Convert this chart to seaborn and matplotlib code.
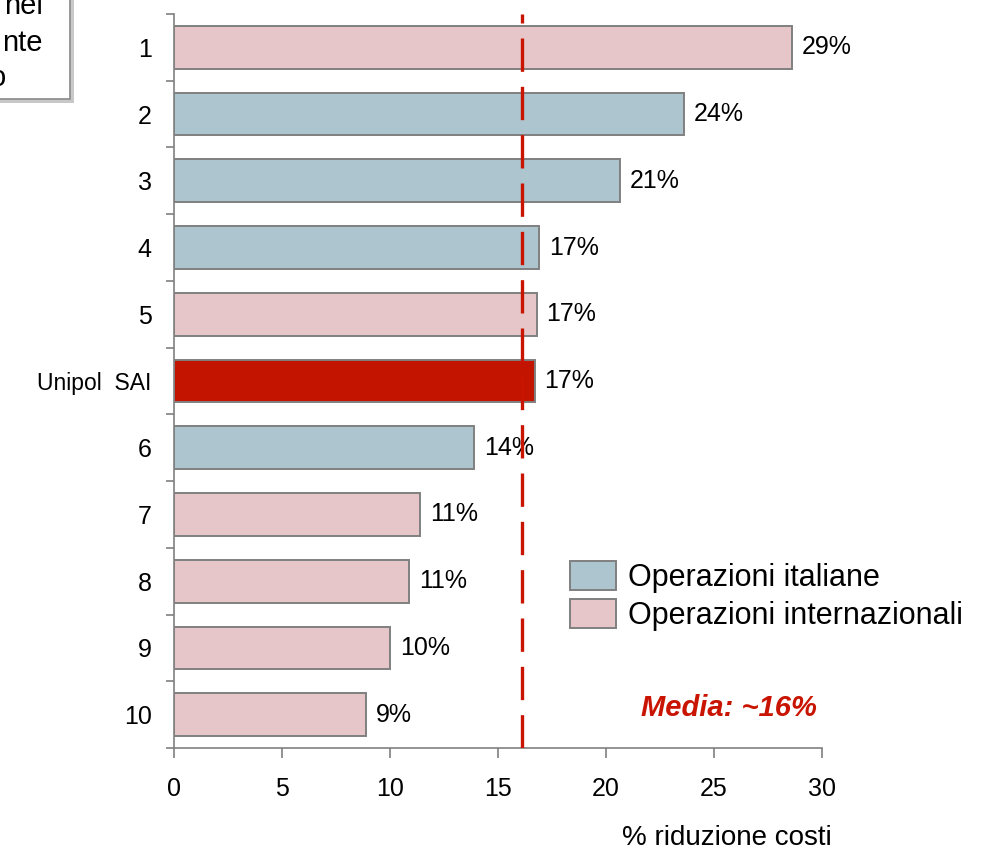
import numpy as np
import pandas as pd
import matplotlib
matplotlib.use('Agg')
import matplotlib.pyplot as plt
from matplotlib.patches import Rectangle, Patch
import seaborn as sns

# Dati del grafico
categorie = ['1', '2', '3', '4', '5', 'Unipol  SAI', '6', '7', '8', '9', '10']
valori = [28.6, 23.6, 20.65, 16.9, 16.8, 16.7, 13.9, 11.4, 10.9, 10.0, 8.9]
gruppi = ['Operazioni internazionali', 'Operazioni italiane', 'Operazioni italiane',
          'Operazioni italiane', 'Operazioni internazionali', 'Unipol',
          'Operazioni italiane', 'Operazioni internazionali', 'Operazioni internazionali',
          'Operazioni internazionali', 'Operazioni internazionali']
etichette = ['29%', '24%', '21%', '17%', '17%', '17%', '14%', '11%', '11%', '10%', '9%']
media = 16.1

colori = {'Operazioni italiane': '#ADC5CF',
          'Operazioni internazionali': '#E6C6C9',
          'Unipol': '#C31400'}

df = pd.DataFrame({'categoria': categorie, 'valore': valori, 'gruppo': gruppi})

sns.set_style('white')
plt.rcParams['font.family'] = ['Liberation Sans', 'DejaVu Sans']
plt.rcParams['text.color'] = 'black'
plt.rcParams['xtick.color'] = 'black'
plt.rcParams['ytick.color'] = 'black'
plt.rcParams['axes.labelcolor'] = 'black'

fig = plt.figure(figsize=(9.82, 8.51), dpi=100)
ax = fig.add_axes([174 / 982, 1 - 748 / 851, 648 / 982, 734 / 851])

sns.barplot(data=df, y='categoria', x='valore', hue='gruppo', palette=colori,
            dodge=False, orient='h', width=0.64, edgecolor='#808080',
            linewidth=1.4, saturation=1, legend=False, ax=ax)

# etichette dei valori
for patch in ax.patches:
    w = patch.get_width()
    if w <= 0 or np.isnan(w):
        continue
    yc = patch.get_y() + patch.get_height() / 2
    i = int(round(yc))
    ax.text(w + 0.45, yc, etichette[i], ha='left', va='center', fontsize=18)

# linea della media
ax.axvline(media, color='#C81400', lw=2.4, dashes=(10, 4.5), zorder=5)
ax.text(0.856, 0.0545, 'Media: ~16%', transform=ax.transAxes, color='#C81400',
        fontsize=21, fontweight='bold', style='italic', ha='center', va='center')

ax.set_xlim(0, 30)
ax.set_ylim(len(categorie) - 0.5, -0.5)
ax.set_xticks([0, 5, 10, 15, 20, 25, 30])
ax.set_yticks(range(len(categorie)))
ax.set_yticks(np.arange(-0.5, len(categorie), 1), minor=True)
ax.tick_params(axis='y', which='major', length=0, labelsize=18, pad=16)
ax.tick_params(axis='y', which='minor', length=6, width=1.2, color='#808080', left=True)
ax.tick_params(axis='x', which='major', length=7, width=1.2, color='#808080',
               bottom=True, labelsize=18, pad=14)
for lbl in ax.get_yticklabels():
    if lbl.get_text().startswith('Unipol'):
        lbl.set_fontsize(16.5)

ax.set_ylabel('')
ax.set_xlabel('% riduzione costi', fontsize=20)
ax.xaxis.set_label_coords(1.015, -0.1226)
ax.xaxis.label.set_horizontalalignment('right')
ax.xaxis.label.set_verticalalignment('center')

for s in ['top', 'right']:
    ax.spines[s].set_visible(False)
for s in ['left', 'bottom']:
    ax.spines[s].set_color('#808080')
    ax.spines[s].set_linewidth(1.2)

# legenda
handles = [Patch(facecolor=colori['Operazioni italiane'], edgecolor='#808080', lw=1.4),
           Patch(facecolor=colori['Operazioni internazionali'], edgecolor='#808080', lw=1.4)]
ax.legend(handles, ['Operazioni italiane', 'Operazioni internazionali'],
          loc='upper left', bbox_to_anchor=(0.592, 0.272), frameon=False,
          fontsize=22, handlelength=1.5, handleheight=1.1, handletextpad=0.4,
          labelspacing=0.2, borderaxespad=0)

# riquadro tagliato in alto a sinistra
fig.patches.append(Rectangle((-0.1 + 4 / 982, 1 - 103 / 851), 0.1 + 70 / 982, 0.2,
                             transform=fig.transFigure, facecolor='#C8C8C8',
                             edgecolor='none', zorder=0))
fig.patches.append(Rectangle((-0.1, 1 - 99 / 851), 0.1 + 70 / 982, 0.2,
                             transform=fig.transFigure, facecolor='white',
                             edgecolor='#909090', lw=1.3, zorder=1))
for testo, xx, yy in [('nel', 43, 6), ('nte', 43, 43), ('o', 6, 78)]:
    fig.text(xx / 982, 1 - yy / 851, testo, ha='right', va='center', fontsize=21,
             zorder=2)

fig.savefig('out.png', dpi=100)
